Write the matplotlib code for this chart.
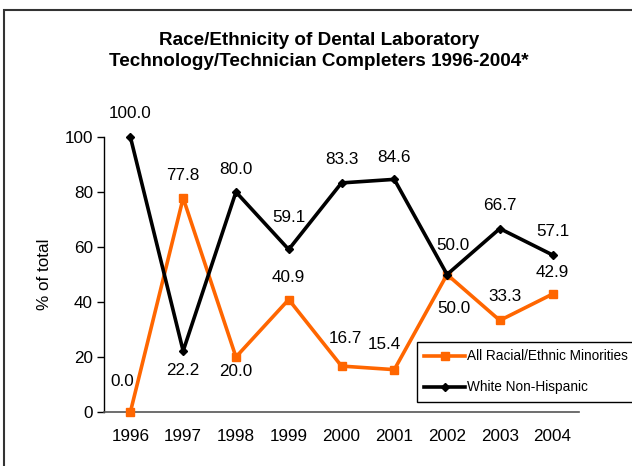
import matplotlib
matplotlib.use("Agg")
import matplotlib.pyplot as plt
from matplotlib.patches import Rectangle

plt.rcParams['font.family'] = ['Liberation Sans', 'DejaVu Sans']

years = ['1996', '1997', '1998', '1999', '2000', '2001', '2002', '2003', '2004']
minorities = [0.0, 77.8, 20.0, 40.9, 16.7, 15.4, 50.0, 33.3, 42.9]
white = [100.0, 22.2, 80.0, 59.1, 83.3, 84.6, 50.0, 66.7, 57.1]

# label offsets in pixels (dx, dy)
white_off = [(0, 24), (0, -20), (0, 23), (0, 32), (0, 23), (0, 22), (6, 29), (0, 23), (0, 23)]
minor_off = [(-8, 30), (0, 23), (0, -15), (0, 22), (4, 28), (-10, 25), (7, -34), (5, 24), (0, 22)]

orange = '#FF6600'
fs = 12.3

fig = plt.figure(figsize=(6.32, 4.66), dpi=100)
ax = fig.add_axes([104 / 632, 1 - 412 / 466, 475 / 632, 275 / 466])

x = list(range(len(years)))
ax.plot(x, minorities, color=orange, lw=2.6, marker='s', ms=5.5,
        label='All Racial/Ethnic Minorities', clip_on=False, zorder=3)
ax.plot(x, white, color='black', lw=2.6, marker='D', ms=4,
        label='White Non-Hispanic', clip_on=False, zorder=4)

for i in x:
    ax.annotate(f'{white[i]:.1f}', (i, white[i]), xytext=white_off[i],
                textcoords='offset pixels', ha='center', va='center', fontsize=fs)
    ax.annotate(f'{minorities[i]:.1f}', (i, minorities[i]), xytext=minor_off[i],
                textcoords='offset pixels', ha='center', va='center', fontsize=fs)

ax.set_xlim(-0.5, len(years) - 0.5)
ax.set_ylim(0, 100)
ax.set_yticks(range(0, 101, 20))
ax.set_xticks(x)
ax.set_xticklabels(years)
ax.tick_params(axis='x', length=0, labelsize=fs, pad=12)
ax.tick_params(axis='y', length=5, width=1, labelsize=fs, pad=3)
for s in ['top', 'right']:
    ax.spines[s].set_visible(False)
ax.spines['bottom'].set_color('#555555')
ax.spines['bottom'].set_linewidth(1.2)
ax.spines['left'].set_linewidth(1)
ax.set_ylabel('% of total', fontsize=fs, labelpad=9)

fig.text(0.505, 1 - 51 / 466,
         'Race/Ethnicity of Dental Laboratory\nTechnology/Technician Completers 1996-2004*',
         ha='center', va='center', fontsize=13.6, fontweight='bold', linespacing=1.3)

leg = fig.legend(loc='upper left', bbox_to_anchor=(417 / 632, 1 - 342 / 466),
                 frameon=True, fancybox=False, edgecolor='black', framealpha=1,
                 fontsize=9.8, handlelength=3, labelspacing=1.25, borderpad=0.55,
                 handletextpad=0.1, borderaxespad=0)
leg.get_frame().set_linewidth(1)

fig.patches.append(Rectangle((4 / 632, -0.1), 1.1, 1 - 10 / 466 + 0.1,
                             transform=fig.transFigure, fill=False,
                             edgecolor='#333333', lw=1.5))

fig.savefig('out.png', dpi=100)
